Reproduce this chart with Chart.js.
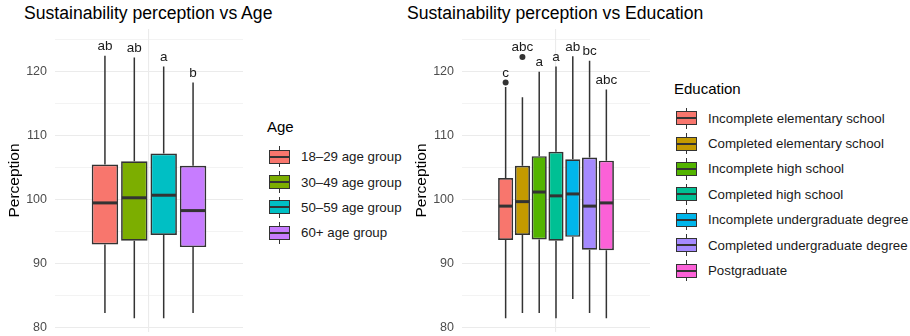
<!DOCTYPE html>
<html>
<head>
<meta charset="utf-8">
<script src="https://cdn.jsdelivr.net/npm/chart.js@4.4.1/dist/chart.umd.min.js"></script>
<style>
  body { margin: 0; background: #fff; font-family: "Liberation Sans", Arial, sans-serif; }
  #wrap { position: relative; width: 910px; height: 336px; overflow: hidden; background: #fff; }
  .ttl { position: absolute; top: 3px; font-size: 17.6px; line-height: 21px; color: #000; white-space: nowrap; }
  canvas { position: absolute; top: 0; }
  .legend { position: absolute; font-size: 13.3px; color: #1a1a1a; white-space: nowrap; }
  .legend .lt { font-size: 15px; line-height: 18px; color: #000; }
  .row { height: 25.4px; display: flex; align-items: center; }
  .key { position: relative; width: 21px; height: 25.4px; margin-left: 2px; margin-right: 11px; flex: none; }
  .key .w { position: absolute; left: 10px; top: 2px; bottom: 2px; width: 1.3px; background: #333; }
  .key .b { position: absolute; left: 0; right: 0; top: 5.7px; height: 14px; box-sizing: border-box; border: 1.6px solid #333; }
  .key .m { position: absolute; left: 0; right: 0; top: 11.7px; height: 2px; background: #333; }
</style>
</head>
<body>
<div id="wrap">
  <div class="ttl" style="left:24px">Sustainability perception vs Age</div>
  <div class="ttl" style="left:407px">Sustainability perception vs Education</div>
  <canvas id="ageChart" width="250" height="336" style="left:0px"></canvas>
  <canvas id="eduChart" width="250" height="336" style="left:407px"></canvas>
  <div class="legend" id="ageLegend" style="left:267px; top:118px"></div>
  <div class="legend" id="eduLegend" style="left:674px; top:80px"></div>
</div>
<script>
// Age panel
const ageGroups = ['18–29 age group', '30–49 age group', '50–59 age group', '60+ age group'];
const ageColors = ['#F8766D', '#7CAE00', '#00BFC4', '#C77CFF'];
const ageMin = [82.3, 81.5, 81.5, 82.3];
const ageQ1 = [93.0, 93.6, 94.5, 92.6];
const ageMedian = [99.5, 100.3, 100.7, 98.3];
const ageQ3 = [105.5, 106.0, 107.2, 105.3];
const ageMax = [122.5, 122.2, 120.8, 118.3];
const ageOutliers = [[], [], [], []];
const ageLetters = ['ab', 'ab', 'a', 'b'];

// Education panel
const eduLevels = ['Incomplete elementary school', 'Completed elementary school', 'Incomplete high school',
  'Completed high school', 'Incomplete undergraduate degree', 'Completed undergraduate degree', 'Postgraduate'];
const eduColors = ['#F8766D', '#C49A00', '#53B400', '#00C094', '#00B6EB', '#A58AFF', '#FB61D7'];
const eduMin = [81.5, 82.3, 82.3, 81.5, 84.5, 82.3, 81.5];
const eduQ1 = [93.7, 94.5, 93.8, 93.6, 94.2, 92.2, 92.1];
const eduMedian = [99.0, 99.7, 101.2, 100.6, 100.9, 99.0, 99.5];
const eduQ3 = [103.4, 105.3, 106.8, 107.5, 106.3, 106.6, 106.1];
const eduMax = [117.6, 116.0, 120.0, 120.8, 122.4, 121.7, 117.2];
const eduOutliers = [[118.3], [122.3], [], [], [], [], []];
const eduLetters = ['c', 'abc', 'a', 'a', 'ab', 'bc', 'abc'];

const yMin = 79.35, yMax = 126.65;
const yTicks = [80, 90, 100, 110, 120];

function boxParts(mins, meds, maxs, q1s, q3s, outs, letters) {
  return {
    id: 'boxParts',
    beforeDatasetsDraw(chart) {
      const ctx = chart.ctx, y = chart.scales.y;
      ctx.save();
      ctx.strokeStyle = '#333333';
      ctx.lineWidth = 1.5;
      chart.data.datasets.forEach((ds, i) => {
        const bar = chart.getDatasetMeta(i).data[0];
        ctx.beginPath();
        ctx.moveTo(bar.x, y.getPixelForValue(maxs[i]));
        ctx.lineTo(bar.x, y.getPixelForValue(q3s[i]));
        ctx.moveTo(bar.x, y.getPixelForValue(q1s[i]));
        ctx.lineTo(bar.x, y.getPixelForValue(mins[i]));
        ctx.stroke();
      });
      ctx.restore();
    },
    afterDatasetsDraw(chart) {
      const ctx = chart.ctx, y = chart.scales.y;
      ctx.save();
      chart.data.datasets.forEach((ds, i) => {
        const bar = chart.getDatasetMeta(i).data[0];
        const half = bar.width / 2;
        const my = y.getPixelForValue(meds[i]);
        ctx.strokeStyle = '#333333';
        ctx.lineWidth = 3;
        ctx.beginPath();
        ctx.moveTo(bar.x - half + 0.8, my);
        ctx.lineTo(bar.x + half - 0.8, my);
        ctx.stroke();
        ctx.fillStyle = '#333333';
        outs[i].forEach(v => {
          ctx.beginPath();
          ctx.arc(bar.x, y.getPixelForValue(v), 3, 0, Math.PI * 2);
          ctx.fill();
        });
        const top = Math.max(maxs[i], ...outs[i]);
        ctx.fillStyle = '#1a1a1a';
        ctx.font = '13.5px "Liberation Sans", Arial, sans-serif';
        ctx.textAlign = 'center';
        ctx.textBaseline = 'middle';
        ctx.fillText(letters[i], bar.x, y.getPixelForValue(top + 1.45));
      });
      ctx.restore();
    }
  };
}

function makeBoxChart(id, names, colors, mins, q1s, meds, q3s, maxs, outs, letters) {
  const datasets = names.map((name, i) => ({
    label: name,
    data: [[q1s[i], q3s[i]]],
    backgroundColor: colors[i],
    borderColor: '#333333',
    borderWidth: 1.7,
    borderSkipped: false,
    categoryPercentage: 0.625,
    barPercentage: 0.9
  }));
  return new Chart(document.getElementById(id), {
    type: 'bar',
    data: { labels: [''], datasets: datasets },
    options: {
      responsive: false,
      animation: false,
      layout: { padding: { top: 29.1, bottom: 4.1, left: 0, right: 7 } },
      plugins: { legend: { display: false }, tooltip: { enabled: false } },
      scales: {
        x: {
          afterFit: s => { s.height = 0; s.paddingLeft = 0; s.paddingRight = 0; },
          border: { display: false },
          grid: { offset: false, color: '#EBEBEB', lineWidth: 1.1, drawTicks: false },
          ticks: { display: false, padding: 0 }
        },
        y: {
          min: yMin, max: yMax,
          afterFit: s => { s.width = 55; s.paddingTop = 0; s.paddingBottom = 0; },
          border: { display: false },
          grid: {
            drawTicks: false,
            color: '#EBEBEB',
            lineWidth: c => (yTicks.includes(c.tick.value) ? 1.1 : 0.6)
          },
          ticks: {
            stepSize: 5,
            includeBounds: false,
            padding: 8,
            color: '#4D4D4D',
            font: { family: '"Liberation Sans", Arial, sans-serif', size: 12.5 },
            callback: v => (yTicks.includes(v) ? v : '')
          },
          title: {
            display: true,
            text: 'Perception',
            color: '#000',
            padding: { top: 5.5, bottom: 0 },
            font: { family: '"Liberation Sans", Arial, sans-serif', size: 15.5 }
          }
        }
      }
    },
    plugins: [boxParts(mins, meds, maxs, q1s, q3s, outs, letters)]
  });
}

function makeLegend(id, title, names, colors) {
  const el = document.getElementById(id);
  let html = '<div class="lt" style="height:' + (id === 'ageLegend' ? 26 : 25.5) + 'px">' + title + '</div>';
  names.forEach((name, i) => {
    html += '<div class="row"><div class="key"><div class="w"></div>' +
      '<div class="b" style="background:' + colors[i] + '"></div><div class="m"></div></div>' +
      '<span>' + name + '</span></div>';
  });
  el.innerHTML = html;
}

makeBoxChart('ageChart', ageGroups, ageColors, ageMin, ageQ1, ageMedian, ageQ3, ageMax, ageOutliers, ageLetters);
makeBoxChart('eduChart', eduLevels, eduColors, eduMin, eduQ1, eduMedian, eduQ3, eduMax, eduOutliers, eduLetters);
makeLegend('ageLegend', 'Age', ageGroups, ageColors);
makeLegend('eduLegend', 'Education', eduLevels, eduColors);
</script>
</body>
</html>
